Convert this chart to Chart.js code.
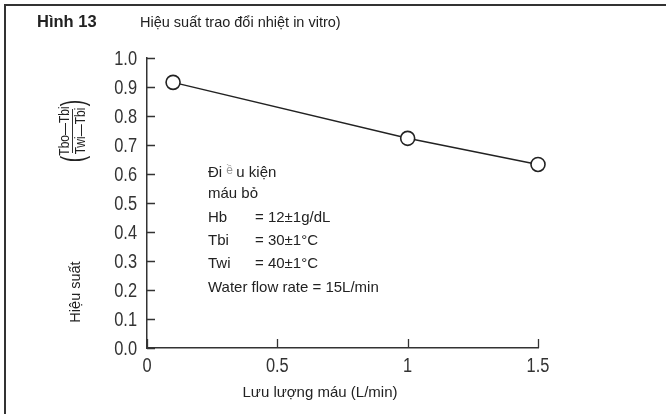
<!DOCTYPE html>
<html>
<head>
<meta charset="utf-8">
<script src="https://cdn.jsdelivr.net/npm/chart.js@4/dist/chart.umd.min.js"></script>
<style>
html,body{margin:0;padding:0;background:#fff;}
canvas{display:block;}
</style>
</head>
<body>
<canvas id="c" width="666" height="414"></canvas>
<script>
// ---- data ----
const flowRates = [0.1, 1.0, 1.5];          // Lưu lượng máu (L/min)
const efficiency = [0.916, 0.723, 0.633];   // Hiệu suất
const xTicks = [0, 0.5, 1, 1.5];
const yTicks = [0, 0.1, 0.2, 0.3, 0.4, 0.5, 0.6, 0.7, 0.8, 0.9, 1.0];
const xTickLabels = ['0', '0.5', '1', '1.5'];
const yTickLabels = ['0.0', '0.1', '0.2', '0.3', '0.4', '0.5', '0.6', '0.7', '0.8', '0.9', '1.0'];
const titleBold = 'Hình 13';
const titleText = 'Hiệu suất trao đổi nhiệt in vitro)';
const xTitle = 'Lưu lượng máu (L/min)';
const yTitle = 'Hiệu suất';
const fracTop = 'Tbo—Tbi';
const fracBottom = 'Twi—Tbi';
const noteLabels = ['Hb', 'Tbi', 'Twi'];
const noteValues = ['= 12±1g/dL', '= 30±1°C', '= 40±1°C'];
const noteLast = 'Water flow rate = 15L/min';

const SANS = "'Liberation Sans', Arial, sans-serif";
const INK = '#222';

function narrowText(ctx, text, x, y, sx) {
  ctx.save();
  ctx.translate(x, y);
  ctx.scale(sx, 1);
  ctx.fillText(text, 0, 0);
  ctx.restore();
}

const decor = {
  id: 'decor',
  afterDraw(chart) {
    const ctx = chart.ctx;
    const xs = chart.scales.x, ys = chart.scales.y;
    ctx.save();
    // page frame (top + left)
    ctx.strokeStyle = '#333';
    ctx.lineWidth = 2;
    ctx.beginPath();
    ctx.moveTo(5, 414); ctx.lineTo(5, 5); ctx.lineTo(666, 5);
    ctx.stroke();

    // inward tick marks
    ctx.strokeStyle = '#333';
    ctx.lineWidth = 1.3;
    ctx.beginPath();
    yTicks.forEach(v => {
      const p = Math.round(ys.getPixelForValue(v)) + 0.5;
      ctx.moveTo(xs.left, p); ctx.lineTo(xs.left + 8, p);
    });
    xTicks.forEach(v => {
      const p = Math.round(xs.getPixelForValue(v)) + 0.5;
      ctx.moveTo(p, ys.bottom); ctx.lineTo(p, ys.bottom - 9);
    });
    ctx.stroke();

    // tick labels (condensed)
    ctx.fillStyle = '#333';
    ctx.font = '20px ' + SANS;
    ctx.textBaseline = 'middle';
    ctx.textAlign = 'right';
    yTicks.forEach((v, i) => {
      narrowText(ctx, yTickLabels[i], 137, ys.getPixelForValue(v) + 1, 0.82);
    });
    ctx.textAlign = 'center';
    xTicks.forEach((v, i) => {
      narrowText(ctx, xTickLabels[i], xs.getPixelForValue(v), 366, 0.82);
    });

    // titles
    ctx.fillStyle = INK;
    ctx.textBaseline = 'alphabetic';
    ctx.textAlign = 'left';
    ctx.font = 'bold 16.5px ' + SANS;
    ctx.fillText(titleBold, 37, 27);
    ctx.font = '14.5px ' + SANS;
    ctx.fillText(titleText, 140, 27);

    // x title
    ctx.textAlign = 'center';
    ctx.font = '15px ' + SANS;
    ctx.fillText(xTitle, 320, 397);

    // rotated y title
    ctx.save();
    ctx.translate(80, 292);
    ctx.rotate(-Math.PI / 2);
    ctx.textAlign = 'center';
    ctx.font = '14.5px ' + SANS;
    ctx.fillText(yTitle, 0, 0);
    ctx.restore();

    // rotated fraction
    ctx.save();
    ctx.translate(72, 131);
    ctx.rotate(-Math.PI / 2);
    ctx.textAlign = 'center';
    ctx.font = '15px ' + SANS;
    narrowText(ctx, fracTop, 0, -3, 0.8);
    narrowText(ctx, fracBottom, 0, 13, 0.8);
    ctx.lineWidth = 1;
    ctx.beginPath();
    ctx.moveTo(-22, 0.5); ctx.lineTo(22, 0.5);
    ctx.stroke();
    ctx.font = '32px ' + SANS;
    ctx.textBaseline = 'middle';
    narrowText(ctx, '(', -28, 2, 0.6);
    narrowText(ctx, ')', 28, 2, 0.6);
    ctx.restore();

    // conditions note
    ctx.textAlign = 'left';
    ctx.textBaseline = 'alphabetic';
    ctx.font = '15px ' + SANS;
    let x0 = 208;
    ctx.fillText('Đi', x0, 177);
    let w = ctx.measureText('Đi ').width;
    ctx.fillStyle = '#999';
    ctx.font = '12px ' + SANS;
    ctx.fillText('ề', x0 + w, 174);
    let w2 = ctx.measureText('ề ').width;
    ctx.fillStyle = INK;
    ctx.font = '15px ' + SANS;
    ctx.fillText('u kiện', x0 + w + w2, 177);
    ctx.fillText('máu bỏ', x0, 198);
    const rows = [222, 245, 268];
    noteLabels.forEach((l, i) => {
      ctx.fillText(l, x0, rows[i]);
      ctx.fillText(noteValues[i], 255, rows[i]);
    });
    ctx.fillText(noteLast, x0, 292);
    ctx.restore();
  }
};

new Chart(document.getElementById('c'), {
  type: 'scatter',
  data: {
    datasets: [{
      data: flowRates.map((x, i) => ({ x: x, y: efficiency[i] })),
      showLine: true,
      clip: false,
      borderColor: INK,
      borderWidth: 1.5,
      pointRadius: 7,
      pointHoverRadius: 7,
      pointBackgroundColor: '#fff',
      pointBorderColor: INK,
      pointBorderWidth: 1.6
    }]
  },
  options: {
    responsive: false,
    animation: false,
    devicePixelRatio: 1,
    layout: { padding: { left: 0, right: 128, top: 58, bottom: 0 } },
    plugins: { legend: { display: false }, tooltip: { enabled: false } },
    scales: {
      x: {
        type: 'linear',
        min: 0, max: 1.5,
        afterFit: s => { s.height = 66; },
        afterBuildTicks: s => { s.ticks = xTicks.map(v => ({ value: v })); },
        grid: { display: false },
        border: { display: true, color: '#333', width: 1.5 },
        ticks: { display: false }
      },
      y: {
        type: 'linear',
        min: 0, max: 1,
        afterFit: s => { s.width = 147; },
        afterBuildTicks: s => { s.ticks = yTicks.map(v => ({ value: v })); },
        grid: { display: false },
        border: { display: true, color: '#333', width: 1.5 },
        ticks: { display: false }
      }
    }
  },
  plugins: [decor]
});
</script>
</body>
</html>
